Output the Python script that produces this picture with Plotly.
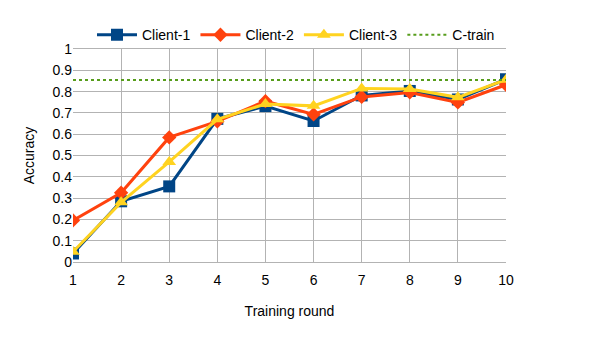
import plotly.graph_objects as go

rounds = [1, 2, 3, 4, 5, 6, 7, 8, 9, 10]
client_1 = [0.04, 0.285, 0.355, 0.672, 0.732, 0.662, 0.782, 0.803, 0.763, 0.858]
client_2 = [0.195, 0.325, 0.585, 0.66, 0.755, 0.693, 0.775, 0.796, 0.749, 0.832]
client_3 = [0.048, 0.28, 0.47, 0.67, 0.742, 0.733, 0.815, 0.812, 0.773, 0.856]
c_train = 0.854

font_name = "Liberation Sans Narrow, Liberation Sans, Arial"

fig = go.Figure()
fig.add_trace(go.Scatter(
    x=rounds, y=client_1, name="Client-1", mode="lines+markers",
    line=dict(color="#004586", width=3),
    marker=dict(symbol="square", size=12, color="#004586")
))
fig.add_trace(go.Scatter(
    x=rounds, y=client_2, name="Client-2", mode="lines+markers",
    line=dict(color="#ff420e", width=3),
    marker=dict(symbol="diamond", size=11, color="#ff420e")
))
fig.add_trace(go.Scatter(
    x=rounds, y=client_3, name="Client-3", mode="lines+markers",
    line=dict(color="#ffd320", width=3),
    marker=dict(symbol="triangle-up", size=12, color="#ffd320")
))
fig.add_trace(go.Scatter(
    x=[rounds[0], rounds[-1]], y=[c_train, c_train], name="C-train", mode="lines",
    line=dict(color="#579d1c", width=2, dash="dot")
))

# page body adds an 8px offset, so margins are shifted to compensate
fig.update_layout(
    width=606, height=340,
    margin=dict(l=65, r=108, t=41, b=86, autoexpand=False),
    plot_bgcolor="white", paper_bgcolor="white",
    font=dict(family=font_name, size=13, color="#000000"),
    legend=dict(orientation="h", x=0.515, xanchor="center", y=0.99, yanchor="bottom",
                font=dict(size=14), itemwidth=40, traceorder="normal",
                bgcolor="rgba(0,0,0,0)"),
    xaxis=dict(
        title=dict(text="Training round", font=dict(size=14), standoff=19),
        range=[1, 10], tickvals=rounds, showgrid=True, gridcolor="#b3b3b3",
        zeroline=False, showline=False, ticks="", tickfont=dict(size=14),
        ticklabelstandoff=5, automargin=False
    ),
    yaxis=dict(
        title=dict(text="Accuracy", font=dict(size=14), standoff=14),
        range=[0, 1], dtick=0.1, tickformat="~g", showgrid=True, gridcolor="#b3b3b3",
        zeroline=True, zerolinecolor="#b3b3b3", showline=False, ticks="",
        tickfont=dict(size=14), automargin=False
    ),
)
fig.update_xaxes(showline=True, linecolor="#b3b3b3", mirror=True)

fig.write_html("out.html")
